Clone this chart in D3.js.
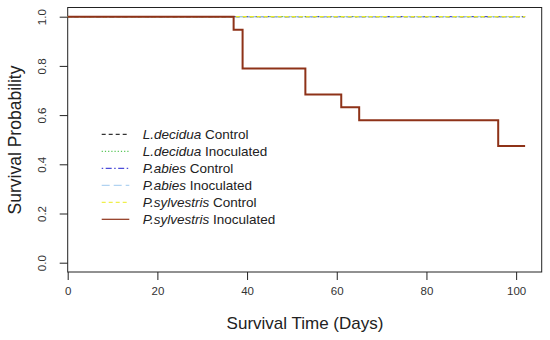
<!DOCTYPE html>
<html>
<head>
<meta charset="utf-8">
<script src="https://cdn.jsdelivr.net/npm/d3@7"></script>
<style>
  body { margin: 0; background: #fff; }
  svg { display: block; font-family: Arial, "Liberation Sans", sans-serif; }
</style>
</head>
<body>
<svg id="chart" width="550" height="340"></svg>
<script>
// ---- data ----
const seriesNames = ["L.decidua Control", "L.decidua Inoculated", "P.abies Control",
                     "P.abies Inoculated", "P.sylvestris Control", "P.sylvestris Inoculated"];
const speciesLabels = ["L.decidua", "L.decidua", "P.abies", "P.abies", "P.sylvestris", "P.sylvestris"];
const treatmentLabels = ["Control", "Inoculated", "Control", "Inoculated", "Control", "Inoculated"];
const ldControlTimes = [0, 102];
const ldControlSurv = [1, 1];
const ldInocTimes = [0, 102];
const ldInocSurv = [1, 1];
const paControlTimes = [0, 102];
const paControlSurv = [1, 1];
const paInocTimes = [0, 102];
const paInocSurv = [1, 1];
const psControlTimes = [0, 102];
const psControlSurv = [1, 1];
const psInocTimes = [0, 37, 39, 53, 61, 65, 96, 102];
const psInocSurv = [1.0, 0.947, 0.789, 0.684, 0.632, 0.579, 0.474, 0.474];
const xTicks = [0, 20, 40, 60, 80, 100];
const yTicks = [0.0, 0.2, 0.4, 0.6, 0.8, 1.0];

const seriesData = [
  [ldControlTimes, ldControlSurv],
  [ldInocTimes, ldInocSurv],
  [paControlTimes, paControlSurv],
  [paInocTimes, paInocSurv],
  [psControlTimes, psControlSurv],
  [psInocTimes, psInocSurv]
].map(([t, s]) => t.map((d, i) => ({t: d, s: s[i]})));

// ---- styles ----
const styles = [
  {color: "#000000", dash: "4,3", width: 1, lw: 1},
  {color: "#2db82d", dash: "1.2,2", width: 1, lw: 1},
  {color: "#2020d0", dash: "1.5,2.5,6,2.5", width: 1, lw: 1},
  {color: "#9ec8ee", dash: "8,4", width: 1, lw: 1},
  {color: "#ecec20", dash: "4,3", width: 1.2, lw: 1},
  {color: "#8e3218", dash: null, width: 2, lw: 1.2}
];

const svg = d3.select("#chart");
const L = 67.7, R = 541.7, T = 7.5, B = 272;
const x = d3.scaleLinear().domain([0, 105.7]).range([L, R]);
const y = d3.scaleLinear().domain([0, 1]).range([262.7, 16.7]);

// box
svg.append("rect").attr("x", L).attr("y", T).attr("width", R - L).attr("height", B - T)
  .attr("fill", "none").attr("stroke", "#222").attr("stroke-width", 1);

// x axis
const xAxis = d3.axisBottom(x).tickValues(xTicks).tickSize(8).tickPadding(7).tickFormat(d3.format("d"));
const gx = svg.append("g").attr("transform", `translate(0,${B})`).call(xAxis);
gx.select(".domain").remove();
gx.selectAll("line").attr("stroke", "#222");
gx.selectAll("text").attr("font-size", 11.5).attr("fill", "#333")
  .attr("font-family", "Arial, 'Liberation Sans', sans-serif");

// y axis
const yAxis = d3.axisLeft(y).tickValues(yTicks).tickSize(8).tickFormat(d3.format(".1f"));
const gy = svg.append("g").attr("transform", `translate(${L},0)`).call(yAxis);
gy.select(".domain").remove();
gy.selectAll("line").attr("stroke", "#222");
gy.selectAll("text").remove();
gy.selectAll(".tick").append("text")
  .attr("transform", "translate(-22,0) rotate(-90)")
  .attr("text-anchor", "middle")
  .attr("font-size", 11.5).attr("fill", "#333")
  .text(d => d3.format(".1f")(d));

// axis titles
svg.append("text").attr("x", 305).attr("y", 329).attr("text-anchor", "middle")
  .attr("font-size", 17).attr("fill", "#222").text("Survival Time (Days)");
svg.append("text").attr("transform", `translate(21,140) rotate(-90)`)
  .attr("text-anchor", "middle").attr("font-size", 17.5).attr("fill", "#222")
  .text("Survival Probability");

// curves
const line = d3.line().x(d => x(d.t)).y(d => y(d.s)).curve(d3.curveStepAfter);
seriesData.forEach((data, i) => {
  const st = styles[i];
  svg.append("path").datum(data).attr("d", line)
    .attr("fill", "none").attr("stroke", st.color).attr("stroke-width", st.width)
    .attr("stroke-dasharray", st.dash);
});

// legend
const legendY0 = 134.3, legendDy = 17;
const lg = svg.append("g");
seriesNames.forEach((name, i) => {
  const st = styles[i];
  const yy = legendY0 + i * legendDy;
  lg.append("line").attr("x1", 101.7).attr("x2", 129.3).attr("y1", yy).attr("y2", yy)
    .attr("stroke", st.color).attr("stroke-width", st.lw)
    .attr("stroke-dasharray", st.dash);
  const t = lg.append("text").attr("x", 142.7).attr("y", yy + 4.8).attr("font-size", 13.5)
    .attr("fill", "#222");
  t.append("tspan").attr("font-style", "italic").text(speciesLabels[i]);
  t.append("tspan").text(" " + treatmentLabels[i]);
});
</script>
</body>
</html>
